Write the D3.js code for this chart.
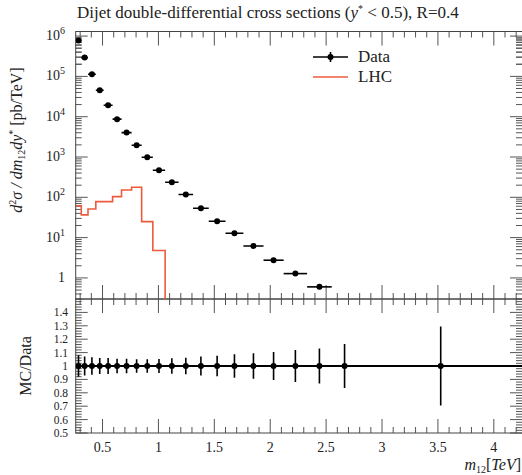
<!DOCTYPE html>
<html>
<head>
<meta charset="utf-8">
<script src="https://cdn.jsdelivr.net/npm/d3@7"></script>
<style>
  html, body { margin: 0; padding: 0; background: #fff; overflow: hidden; }
  text { font-family: "Liberation Serif", "DejaVu Serif", serif; fill: #222; }
</style>
</head>
<body>
<div id="chart"></div>
<script>
// m12 bin edges [TeV]
const binEdges = [0.26, 0.31, 0.37, 0.44, 0.51, 0.59, 0.67, 0.76, 0.85, 0.95, 1.06,
  1.18, 1.31, 1.45, 1.6, 1.76, 1.94, 2.12, 2.33, 2.55, 2.78, 4.27];
// measured cross section [pb/TeV]
const dataValues = [7.8e5, 2.93e5, 1.13e5, 4.55e4, 1.93e4, 8.7e3, 4.03e3, 1.95e3, 990, 470,
  237, 117, 53.7, 25.5, 12.8, 6.2, 2.75, 1.28, 0.6, 0.25, 0.01];
// relative uncertainty of data
const dataRelErr = [0.08, 0.07, 0.065, 0.06, 0.06, 0.055, 0.055, 0.05, 0.05, 0.052,
  0.057, 0.062, 0.07, 0.077, 0.087, 0.095, 0.105, 0.12, 0.13, 0.165, 0.295];
// LHC prediction
const lhcValues = [62, 36.6, 51.5, 78, 78, 104, 152, 178, 25, 4.8,
  0, 0, 0, 0, 0, 0, 0, 0, 0, 0, 0];

const xMajorTicks = [0.5, 1, 1.5, 2, 2.5, 3, 3.5, 4];
const xTickLabels = ['0.5', '1', '1.5', '2', '2.5', '3', '3.5', '4'];
const yMajorExp = [0, 1, 2, 3, 4, 5, 6];
const ratioTicks = [0.5, 0.6, 0.7, 0.8, 0.9, 1.0, 1.1, 1.2, 1.3, 1.4];
const ratioTickLabels = ['0.5', '0.6', '0.7', '0.8', '0.9', '1', '1.1', '1.2', '1.3', '1.4'];

const width = 522, height = 475;
const left = 75.7, right = 524;
const upTop = 31.5, upBottom = 299, loTop = 299, loBottom = 433;
const red = '#ee5a3c';

const svg = d3.select('#chart').append('svg')
  .attr('width', width).attr('height', height);

const x = d3.scaleLinear().domain([0.26, 4.27]).range([left, right]);
const y = d3.scaleLog().domain([0.3, 1.3e6]).range([upBottom, upTop]);
const yr = d3.scaleLinear().domain([0.5, 1.5]).range([loBottom, loTop]);

const defs = svg.append('defs');
defs.append('clipPath').attr('id', 'clipUp').append('rect')
  .attr('x', left).attr('y', upTop).attr('width', right - left).attr('height', upBottom - upTop);
defs.append('clipPath').attr('id', 'clipLo').append('rect')
  .attr('x', left).attr('y', loTop).attr('width', right - left).attr('height', loBottom - loTop);

const bins = dataValues.map((v, i) => ({
  lo: binEdges[i], hi: binEdges[i + 1], mid: (binEdges[i] + binEdges[i + 1]) / 2,
  val: v, err: dataRelErr[i], lhc: lhcValues[i]
}));

// ---- ticks ----
const xMinor = d3.range(3, 43).map(d => d / 10).filter(d => !xMajorTicks.some(t => Math.abs(t - d) < 1e-6));
function xTicks(yPos, dir) {
  const g = svg.append('g').attr('stroke', '#555').attr('stroke-width', 1);
  g.selectAll('.mj').data(xMajorTicks).enter().append('line')
    .attr('x1', d => x(d)).attr('x2', d => x(d))
    .attr('y1', yPos).attr('y2', yPos + dir * 14);
  g.selectAll('.mn').data(xMinor).enter().append('line')
    .attr('x1', d => x(d)).attr('x2', d => x(d))
    .attr('y1', yPos).attr('y2', yPos + dir * 6);
}
xTicks(upTop, 1);
xTicks(upBottom, -1);
xTicks(loTop, 1);
xTicks(loBottom, -1);

const yMinor = [];
yMajorExp.forEach(e => { for (let k = 2; k <= 9; k++) yMinor.push(k * Math.pow(10, e - 1)); });
for (let k = 2; k <= 9; k++) yMinor.push(k * 1e5);
const yMinorIn = yMinor.filter(v => v > 0.3 && v < 1.3e6);
function yTicksUp(xPos, dir) {
  const g = svg.append('g').attr('stroke', '#555').attr('stroke-width', 1);
  g.selectAll('.mj').data(yMajorExp).enter().append('line')
    .attr('x1', xPos).attr('x2', xPos + dir * 12)
    .attr('y1', d => y(Math.pow(10, d))).attr('y2', d => y(Math.pow(10, d)));
  g.selectAll('.mn').data(yMinorIn).enter().append('line')
    .attr('x1', xPos).attr('x2', xPos + dir * 6)
    .attr('y1', d => y(d)).attr('y2', d => y(d));
}
yTicksUp(left, 1);
yTicksUp(right - 2, -1);

const rMinor = d3.range(25, 75).map(d => d / 50).filter(d => Math.abs(d * 10 - Math.round(d * 10)) > 1e-6);
function yTicksLo(xPos, dir) {
  const g = svg.append('g').attr('stroke', '#555').attr('stroke-width', 1);
  g.selectAll('.mj').data(ratioTicks).enter().append('line')
    .attr('x1', xPos).attr('x2', xPos + dir * 12)
    .attr('y1', d => yr(d)).attr('y2', d => yr(d));
  g.selectAll('.mn').data(rMinor).enter().append('line')
    .attr('x1', xPos).attr('x2', xPos + dir * 6)
    .attr('y1', d => yr(d)).attr('y2', d => yr(d));
}
yTicksLo(left, 1);
yTicksLo(right - 2, -1);

// frames
svg.append('rect').attr('x', left).attr('y', upTop).attr('width', right - left).attr('height', upBottom - upTop)
  .attr('fill', 'none').attr('stroke', '#444').attr('stroke-width', 1);
svg.append('rect').attr('x', left).attr('y', loTop).attr('width', right - left).attr('height', loBottom - loTop)
  .attr('fill', 'none').attr('stroke', '#444').attr('stroke-width', 1);

// ---- tick labels ----
svg.selectAll('.xl').data(xMajorTicks).enter().append('text')
  .attr('x', d => x(d)).attr('y', 452)
  .attr('text-anchor', 'middle').attr('font-size', 14)
  .text((d, i) => xTickLabels[i]);

const yl = svg.selectAll('.yl').data(yMajorExp).enter().append('text')
  .attr('x', 65).attr('y', d => y(Math.pow(10, d)) + 4)
  .attr('text-anchor', 'end').attr('font-size', 14);
yl.each(function (d) {
  const t = d3.select(this);
  if (d === 0) { t.text('1'); return; }
  t.append('tspan').text('10');
  t.append('tspan').attr('dy', -6).attr('font-size', 10).text(d);
});

svg.selectAll('.rl').data(ratioTicks).enter().append('text')
  .attr('x', 68).attr('y', d => yr(d) + 4)
  .attr('text-anchor', 'end').attr('font-size', 11.5)
  .text((d, i) => ratioTickLabels[i]);

// ---- LHC histogram ----
const below = upBottom + 10;
let lhcPath = '';
bins.forEach((b, i) => {
  const yy = b.lhc > 0 ? y(b.lhc) : below;
  lhcPath += (i === 0 ? 'M' : 'L') + x(b.lo) + ',' + yy + 'L' + x(b.hi) + ',' + yy;
});
svg.append('path').attr('d', lhcPath).attr('clip-path', 'url(#clipUp)')
  .attr('fill', 'none').attr('stroke', red).attr('stroke-width', 1.6);

// ---- data points (upper) ----
const gData = svg.append('g').attr('clip-path', 'url(#clipUp)');
gData.selectAll('.hx').data(bins).enter().append('line')
  .attr('x1', d => x(d.lo)).attr('x2', d => x(d.hi))
  .attr('y1', d => y(d.val)).attr('y2', d => y(d.val))
  .attr('stroke', '#000').attr('stroke-width', 1.6);
gData.selectAll('.vy').data(bins).enter().append('line')
  .attr('x1', d => x(d.mid)).attr('x2', d => x(d.mid))
  .attr('y1', d => y(d.val * (1 + d.err))).attr('y2', d => y(d.val * (1 - d.err)))
  .attr('stroke', '#000').attr('stroke-width', 1.6);
gData.selectAll('circle').data(bins).enter().append('circle')
  .attr('cx', d => x(d.mid)).attr('cy', d => y(d.val)).attr('r', 3)
  .attr('fill', '#000');

// ---- ratio panel ----
const gRatio = svg.append('g').attr('clip-path', 'url(#clipLo)');
gRatio.append('line')
  .attr('x1', x(binEdges[0])).attr('x2', x(binEdges[binEdges.length - 1]))
  .attr('y1', yr(1)).attr('y2', yr(1))
  .attr('stroke', '#000').attr('stroke-width', 1.8);
gRatio.selectAll('.ve').data(bins).enter().append('line')
  .attr('x1', d => x(d.mid)).attr('x2', d => x(d.mid))
  .attr('y1', d => yr(1 + d.err)).attr('y2', d => yr(1 - d.err))
  .attr('stroke', '#000').attr('stroke-width', 1.6);
gRatio.selectAll('circle').data(bins).enter().append('circle')
  .attr('cx', d => x(d.mid)).attr('cy', yr(1)).attr('r', 3)
  .attr('fill', '#000');

// ---- legend ----
const lg = svg.append('g');
lg.append('line').attr('x1', 313).attr('x2', 348).attr('y1', 57).attr('y2', 57)
  .attr('stroke', '#000').attr('stroke-width', 1.6);
lg.append('line').attr('x1', 330.5).attr('x2', 330.5).attr('y1', 52).attr('y2', 62)
  .attr('stroke', '#000').attr('stroke-width', 1.6);
lg.append('circle').attr('cx', 330.5).attr('cy', 57).attr('r', 3).attr('fill', '#000');
lg.append('text').attr('x', 358).attr('y', 62).attr('font-size', 17).text('Data');
lg.append('line').attr('x1', 313).attr('x2', 348).attr('y1', 77).attr('y2', 77)
  .attr('stroke', red).attr('stroke-width', 1.6);
lg.append('text').attr('x', 358).attr('y', 82).attr('font-size', 17).text('LHC');

// ---- titles ----
const title = svg.append('text').attr('x', 77).attr('y', 18).attr('font-size', 17);
title.append('tspan').text('Dijet double-differential cross sections (');
title.append('tspan').attr('font-style', 'italic').text('y');
title.append('tspan').attr('dy', -6).attr('font-size', 10).text('*');
title.append('tspan').attr('dy', 6).text(' < 0.5), R=0.4');

const yLab = svg.append('text')
  .attr('transform', `translate(22, 140) rotate(-90)`)
  .attr('text-anchor', 'middle').attr('font-size', 16);
yLab.append('tspan').attr('font-style', 'italic').text('d');
yLab.append('tspan').attr('dy', -6).attr('font-size', 10).text('2');
yLab.append('tspan').attr('dy', 6).attr('font-style', 'italic').text('σ / dm');
yLab.append('tspan').attr('dy', 3).attr('font-size', 10).text('12');
yLab.append('tspan').attr('dy', -3).attr('font-style', 'italic').text('dy');
yLab.append('tspan').attr('dy', -6).attr('font-size', 10).text('*');
yLab.append('tspan').attr('dy', 6).text(' [pb/TeV]');

svg.append('text')
  .attr('transform', `translate(31, ${(loTop + loBottom) / 2}) rotate(-90)`)
  .attr('text-anchor', 'middle').attr('font-size', 16)
  .text('MC/Data');

const xLab = svg.append('text').attr('x', 521).attr('y', 470)
  .attr('text-anchor', 'end').attr('font-size', 16);
xLab.append('tspan').attr('font-style', 'italic').text('m');
xLab.append('tspan').attr('dy', 3).attr('font-size', 10).text('12');
xLab.append('tspan').attr('dy', -3).text('[');
xLab.append('tspan').attr('font-style', 'italic').text('TeV');
xLab.append('tspan').text(']');
</script>
</body>
</html>
